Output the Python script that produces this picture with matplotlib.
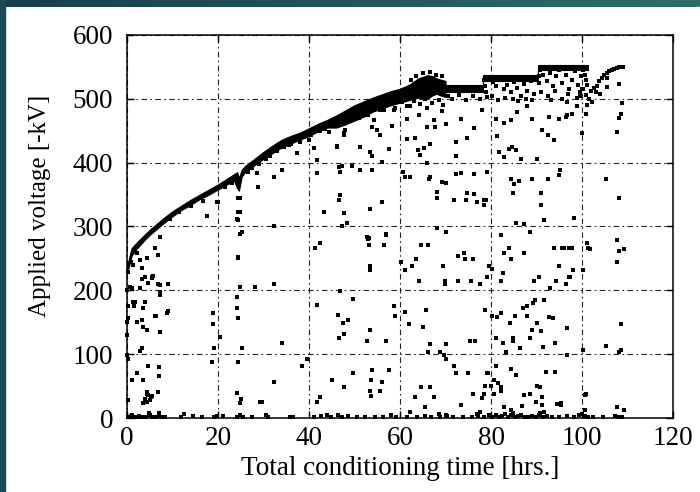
import numpy as np
import matplotlib
matplotlib.use('Agg')
import matplotlib.pyplot as plt
from matplotlib.colors import LinearSegmentedColormap
from matplotlib.patches import Rectangle

# upper conditioning curve (dense band), 0-70 hrs
band_t = [0, 0.5, 1, 2, 3, 4, 5, 6, 8, 10, 12, 14, 16, 18, 20, 22, 23.5, 24.2, 24.6, 25.2,
          26, 28, 30, 32, 34, 36, 38, 40, 42, 44, 46, 48, 50, 52, 54, 56, 58, 60, 62, 64,
          66, 67, 68, 69, 70]
band_top = [237, 252, 266, 274, 281, 288, 295, 301, 313, 324, 333, 342, 350, 358, 366, 375, 382, 385, 376, 389,
            395, 406, 417, 427, 436, 442, 447, 454, 461, 467, 474, 482, 490, 496, 502, 507, 512, 516, 522, 532,
            537, 536, 532, 530, 528]
band_bot = [226, 240, 254, 264, 272, 280, 287, 293, 305, 316, 326, 334, 343, 350, 358, 366, 372, 360, 356, 378,
            386, 396, 406, 415, 424, 430, 436, 442, 449, 455, 455, 460, 466, 472, 480, 485, 490, 494, 498, 502,
            500, 505, 508, 505, 503]

# voltage plateaus 70-101 hrs
step_t = [70.2, 78.3, 78.3, 90.3, 90.3, 101.4]
step_top = [522, 522, 537, 537, 553, 553]
step_bot = [511, 511, 528, 528, 545, 545]

# tail after the last plateau
tail = [(100.3, 545), (100.6, 537), (100.9, 530), (101.2, 522), (100.1, 515), (99.6, 511), (100.8, 506),
        (101.5, 500), (102.0, 512), (102.7, 517), (103.3, 520), (103.8, 528), (104.4, 532), (104.9, 537),
        (105.5, 540), (106.0, 543), (106.6, 545), (107.1, 547), (107.6, 548), (108.1, 550), (108.6, 550),
        (109.1, 550), (105.6, 532), (105.4, 519), (104.0, 508), (102.3, 495), (103.0, 510)]

# breakdown points 0-10 hrs
pts_a = [(0.3, 228), (0.8, 245), (1.4, 240), (2.1, 258), (2.9, 248), (3.4, 235), (4.0, 221), (4.3, 250),
         (5.4, 221), (5.8, 222), (6.2, 266), (6.9, 255), (7.3, 283), (7.3, 208), (3.4, 217), (5.4, 220),
         (4.7, 211), (6.9, 210), (9.1, 210), (1.0, 203), (2.9, 203), (7.3, 198), (7.3, 193), (1.4, 182),
         (3.96, 182), (3.6, 172), (9.1, 167), (0.3, 156), (2.1, 151), (3.6, 143), (6.2, 160), (7.3, 135),
         (3.4, 153), (4.3, 138), (3.2, 109), (2.9, 105), (0.3, 93), (4.7, 81), (7.1, 80), (2.1, 70),
         (7.1, 66), (3.6, 60), (1.0, 60), (6.9, 41), (4.3, 40), (4.7, 36), (5.1, 28), (4.3, 25), (3.6, 23),
         (0.3, 28), (4.9, 8), (7.1, 8), (1.0, 4), (2.9, 2), (0.1, 200), (0.2, 175), (0.1, 150), (0.0, 130),
         (0.1, 99), (1.8, 182), (1.5, 176), (6.4, 160), (8.7, 165), (2.3, 71), (0.7, 206), (5.2, 33),
         (4.5, 38), (3.9, 30), (5.5, 35)]

# breakdown points 10-45 hrs
pts_b = [(17.5, 317), (19.7, 339), (20.0, 338), (24.5, 344), (24.5, 323), (24.5, 310), (24.4, 252),
         (24.1, 311), (24.9, 344), (24.9, 323), (25.3, 292), (28.9, 362), (28.5, 384), (32.2, 301),
         (32.2, 378), (34.1, 388), (35.6, 427), (37.4, 415), (38.1, 432), (40.1, 436), (41.0, 423),
         (41.8, 404), (41.8, 384), (43.2, 322), (19.0, 164), (19.0, 147), (19.2, 109), (18.6, 88),
         (20.5, 127), (24.9, 289), (24.5, 250), (24.9, 206), (24.1, 190), (24.1, 172), (24.5, 156),
         (25.3, 109), (24.5, 88), (24.1, 39), (24.9, 23), (24.9, 4), (28.2, 206), (32.2, 210), (34.1, 117),
         (32.2, 57), (29.3, 25), (29.6, 25), (38.5, 81), (39.6, 93), (41.8, 177), (42.5, 274), (41.4, 266),
         (41.8, 25), (42.5, 33), (12.5, 7), (21.0, 3), (25.0, 30), (30.5, 5), (36.5, 2), (44.0, 4), (14.5, 3)]

# points just under the curve, 25-70 hrs
pts_f = [(26.5, 385), (27.5, 392), (29.0, 398), (30.5, 405), (31.5, 410), (33.0, 418), (34.5, 425),
         (36.0, 430), (37.0, 435), (39.0, 440), (40.5, 444), (42.5, 450), (43.5, 452), (44.5, 448),
         (45.5, 458), (46.5, 463), (47.5, 470), (49.0, 465), (50.0, 475), (51.0, 470), (52.5, 480),
         (53.0, 474), (55.0, 488), (56.5, 482), (57.5, 492), (59.0, 485), (60.5, 495), (61.5, 488),
         (63.0, 497), (64.5, 492), (65.5, 500), (67.0, 494), (68.5, 498), (69.5, 490), (62.5, 530),
         (63.5, 536), (65.0, 540), (66.5, 542), (68.0, 538), (69.3, 535), (14.0, 332), (16.8, 340),
         (21.5, 362), (23.0, 368), (9.5, 312), (11.5, 322)]

# breakdown points 45-110 hrs, upper half
pts_c = [(46.2, 426), (48.0, 451), (47.6, 443), (51.3, 424), (53.5, 417), (53.9, 410), (56.1, 401),
         (57.6, 422), (53.9, 456), (55.0, 451), (55.7, 443), (58.3, 458), (58.6, 482), (55.7, 483),
         (54.2, 467), (47.3, 394), (49.5, 394), (51.3, 389), (53.9, 389), (46.7, 342), (47.6, 321),
         (47.3, 300), (53.4, 328), (56.1, 338), (52.9, 281), (57.0, 287), (62.3, 489), (66.0, 486),
         (61.6, 469), (64.1, 474), (67.5, 467), (66.0, 456), (67.8, 456), (69.3, 481), (61.6, 437),
         (63.4, 439), (66.6, 429), (63.9, 420), (65.2, 423), (64.4, 412), (66.0, 399), (61.2, 378),
         (66.3, 375), (69.3, 370), (72.2, 382), (73.3, 384), (76.3, 382), (72.4, 433), (74.7, 439),
         (76.3, 454), (73.3, 469), (78.1, 483), (70.0, 461), (72.2, 410), (68.2, 354), (70.0, 368),
         (68.2, 344), (66.6, 377), (74.8, 353), (77.0, 339), (78.5, 341), (79.2, 386), (81.8, 417),
         (81.4, 441), (81.0, 469), (82.9, 462), (84.3, 467), (85.8, 480), (84.0, 422), (84.7, 424),
         (85.5, 420), (82.9, 409), (86.5, 405), (90.2, 406), (89.1, 468), (92.8, 472), (95.0, 469),
         (96.4, 472), (99.0, 488), (88.0, 488), (91.3, 451), (92.5, 443), (93.9, 435), (84.3, 375),
         (86.2, 372), (89.1, 375), (92.5, 375), (95.2, 389), (95.0, 380), (68.2, 298), (70.0, 292),
         (71.9, 341), (74.4, 342), (76.3, 351), (78.9, 341), (84.9, 352), (85.0, 367), (78.5, 333),
         (91.0, 333), (91.0, 352), (88.6, 292), (82.3, 286), (85.4, 305), (87.3, 304), (91.6, 310),
         (98.3, 313), (60.7, 386), (62.3, 378), (46.2, 425), (46.5, 393), (46.9, 386), (46.9, 349),
         (47.6, 447), (48.0, 463), (48.3, 305), (108.1, 524), (108.9, 494), (108.5, 477), (108.1, 470),
         (107.7, 448), (100.1, 446), (105.2, 375), (108.1, 345), (101.2, 490), (100.8, 477),
         (96.8, 474), (97.9, 477), (107.8, 279), (108.2, 261), (109.3, 265), (101.3, 267), (101.8, 264),
         (97.2, 267), (95.5, 267)]

# breakdown points 45-110 hrs, lower half
pts_d = [(52.8, 283), (53.1, 282), (53.1, 271), (57.0, 288), (56.5, 271), (53.5, 238), (53.5, 232),
         (64.6, 271), (66.1, 271), (60.3, 244), (61.0, 232), (62.7, 238), (63.6, 249), (64.1, 215),
         (69.5, 238), (69.8, 215), (69.8, 210), (72.8, 254), (74.1, 259), (74.2, 249), (76.1, 249),
         (72.8, 215), (75.5, 215), (77.5, 210), (79.6, 238), (80.3, 233), (79.2, 221), (82.9, 259),
         (84.0, 267), (84.4, 249), (82.7, 227), (82.1, 215), (87.3, 259), (93.9, 267), (96.1, 267),
         (97.7, 267), (95.0, 238), (98.1, 232), (97.1, 221), (94.2, 215), (90.6, 221), (89.5, 215),
         (92.9, 203), (101.0, 274), (46.9, 199), (49.7, 186), (46.3, 161), (48.5, 153), (47.5, 149),
         (53.5, 138), (46.7, 126), (47.7, 131), (52.8, 121), (57.0, 121), (58.6, 175), (58.8, 160),
         (61.2, 166), (62.0, 147), (65.1, 143), (65.8, 169), (66.6, 116), (70.2, 116), (66.1, 104),
         (68.8, 104), (69.7, 99), (70.2, 92), (71.8, 82), (72.2, 71), (74.9, 71), (75.4, 121),
         (76.4, 121), (78.6, 169), (79.3, 71), (80.3, 160), (81.4, 159), (82.3, 164), (81.2, 126),
         (82.7, 118), (84.2, 149), (85.2, 160), (84.9, 126), (84.9, 121), (86.4, 109), (83.4, 104),
         (87.1, 173), (88.0, 175), (89.3, 180), (89.6, 185), (91.6, 185), (88.0, 160), (89.1, 138),
         (91.0, 136), (88.6, 126), (90.2, 149), (91.5, 112), (92.8, 158), (93.7, 156), (94.0, 118),
         (96.6, 141), (105.2, 113), (81.2, 82), (84.5, 76), (85.4, 67), (79.2, 71), (80.6, 59),
         (81.5, 55), (80.0, 50), (78.7, 50), (82.1, 48), (80.6, 38), (82.3, 42), (78.5, 37), (76.1, 38),
         (78.1, 32), (77.0, 6), (77.6, 9), (82.9, 18), (84.4, 13), (84.8, 8), (87.3, 36), (88.6, 37),
         (91.3, 33), (89.9, 25), (91.1, 20), (86.9, 19), (90.2, 50), (90.8, 48), (92.0, 72), (94.0, 72),
         (94.5, 22), (95.4, 21), (100.8, 38), (100.6, 13), (45.1, 60), (47.6, 49), (49.7, 71), (53.9, 75),
         (53.7, 59), (53.5, 43), (55.5, 43), (53.7, 34), (56.1, 57), (57.6, 75), (64.6, 49), (66.6, 49),
         (63.3, 33), (67.5, 33), (65.6, 18), (62.1, 10), (68.6, 7), (70.2, 5), (73.3, 20), (91.6, 10),
         (90.7, 8), (107.8, 245), (108.5, 148), (108.1, 103), (108.6, 106), (107.8, 18), (109.3, 13),
         (97.4, 221), (96.4, 210), (100.3, 232), (96.8, 141), (96.8, 99), (100.3, 106), (100.6, 36),
         (95.3, 23)]

# speckles just under the plateaus
pts_e = [(80.5, 527), (81.2, 520), (82.0, 530), (82.8, 515), (83.5, 522), (84.3, 510), (85.0, 526),
         (85.8, 517), (86.6, 505), (87.3, 523), (88.0, 512), (88.7, 528), (89.4, 507), (80.2, 505),
         (81.5, 498), (83.0, 502), (84.8, 500), (86.0, 497), (87.8, 500), (89.0, 498), (90.8, 545),
         (91.5, 538), (92.2, 528), (92.9, 541), (93.6, 520), (94.3, 535), (95.0, 545), (95.7, 525),
         (96.4, 538), (97.1, 515), (97.8, 530), (98.5, 543), (99.2, 522), (99.8, 535), (91.0, 510),
         (92.5, 505), (94.0, 512), (95.5, 500), (97.0, 507), (98.8, 502), (100.2, 515), (93.2, 498),
         (96.8, 495), (99.6, 505), (78.5, 530), (78.7, 520), (78.9, 510), (79.2, 503), (70.5, 505),
         (71.5, 500), (73.0, 506), (74.5, 498), (76.0, 504), (77.5, 500), (90.5, 535), (90.6, 525)]

# points sitting on the zero line
floor = [(0.2, 2), (0.8, 3), (1.3, 1), (2.0, 2), (2.6, 3), (3.2, 1), (4.1, 2), (5.0, 4), (5.6, 1),
         (6.3, 2), (7.0, 3), (7.6, 1), (8.4, 2), (11.8, 1), (16.5, 2), (19.2, 1), (19.8, 3), (24.2, 2),
         (24.8, 4), (25.4, 1), (27.5, 2), (31.0, 1), (35.8, 2), (41.0, 1), (42.6, 3), (44.8, 2),
         (46.4, 4), (47.3, 1), (48.6, 3), (50.5, 1), (52.2, 2), (54.6, 1), (56.3, 2), (58.0, 4),
         (59.2, 1), (61.5, 2), (63.8, 1), (65.4, 3), (66.8, 1), (68.7, 2), (70.4, 3), (71.6, 1),
         (73.9, 2), (75.8, 1), (77.2, 3), (78.4, 2), (79.5, 5), (80.3, 2), (81.0, 4), (81.7, 1),
         (82.4, 3), (83.1, 6), (83.8, 2), (84.5, 4), (85.2, 1), (85.9, 3), (86.6, 5), (87.4, 2),
         (88.2, 1), (89.0, 3), (89.8, 2), (90.6, 4), (91.4, 1), (92.2, 3), (93.5, 2), (95.0, 1),
         (96.6, 3), (98.2, 2), (99.3, 4), (100.0, 6), (100.6, 3), (101.3, 2), (102.5, 1), (104.6, 2),
         (107.3, 3), (108.2, 2), (108.9, 1)]

xticks = [0, 20, 40, 60, 80, 100, 120]
yticks = [0, 100, 200, 300, 400, 500, 600]

plt.rcParams['font.family'] = ['Liberation Serif', 'DejaVu Serif']

fig = plt.figure(figsize=(7, 4.92), dpi=100)
fig.patch.set_facecolor('white')

# dark slide frame: gradient strip on top, solid strip on the left
bar = fig.add_axes([0, 1 - 7 / 492, 1, 7 / 492])
bar.imshow(np.linspace(0, 1, 256).reshape(1, -1), aspect='auto',
           cmap=LinearSegmentedColormap.from_list('frame', ['#173d4e', '#2f6e68']))
bar.axis('off')
fig.patches.append(Rectangle((0, 0), 5 / 700, 1, transform=fig.transFigure,
                             color='#1b4858', zorder=5))
fig.patches.append(Rectangle((1 - 4 / 700, 0), 4 / 700, 1 - 7 / 492, transform=fig.transFigure,
                             color='white', zorder=5))

ax = fig.add_axes([127 / 700, 1 - 418 / 492, 546 / 700, 383 / 492])

ax.fill_between(band_t, band_bot, band_top, color='black', lw=0.8, zorder=3)
ax.fill_between(step_t, step_bot, step_top, color='black', lw=0.8, zorder=3)

for pts in [tail, pts_a, pts_b, pts_f, pts_c, pts_d, pts_e, floor]:
    a = np.array(pts, dtype=float)
    ax.plot(a[:, 0], a[:, 1], 's', color='black', ms=2.7, mew=0, zorder=4, clip_on=False)

ax.set_xlim(0, 120)
ax.set_ylim(0, 600)
ax.set_xticks(xticks)
ax.set_yticks(yticks)
ax.tick_params(direction='in', length=5, width=1, top=True, right=True,
               labelsize=19.5, colors='black')
ax.tick_params(axis='y', pad=10)
ax.tick_params(axis='x', pad=6)
ax.grid(True, color='#222222', lw=0.8, linestyle=(0, (5, 3, 1.5, 3)))
for s in ax.spines.values():
    s.set_linewidth(1.1)

ax.set_xlabel('Total conditioning time [hrs.]', fontsize=19.5)
ax.set_ylabel('Applied voltage [-kV]', fontsize=18)
ax.xaxis.set_label_coords(0.5, -0.10)
ax.yaxis.set_label_coords(-0.14, 0.555)

fig.savefig('out.png', dpi=100)
